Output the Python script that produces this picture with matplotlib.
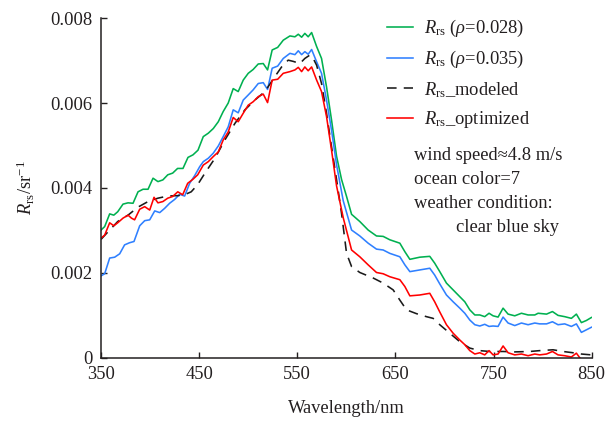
import matplotlib
matplotlib.use("Agg")
import matplotlib.pyplot as plt

plt.rcParams['font.family'] = ['Liberation Serif', 'DejaVu Serif']
plt.rcParams['mathtext.fontset'] = 'custom'
plt.rcParams['mathtext.rm'] = 'Liberation Serif'
plt.rcParams['mathtext.it'] = 'Liberation Serif:italic'
plt.rcParams['mathtext.bf'] = 'Liberation Serif:bold'

# ---------------- data ----------------
wl_green = [350, 353.7, 358.8, 363, 367, 372.4, 377.5, 382.6, 387.7, 392.8, 397.9, 403, 408, 413,
            418, 423, 428, 433.5, 438.6, 443.7, 448.8, 454.2, 459.3, 464.4, 469.5, 474.5, 479.6,
            484.7, 489.8, 494.9, 500, 505, 510.2, 515.3, 519.7, 524.4, 530, 535.7, 542.5, 547.6,
            551, 554.4, 557.7, 561.1, 564.6, 569.7, 574.7, 579.8, 584.9, 590, 595.1, 600.2, 605.3,
            613.7, 622.2, 630.7, 637.5, 644.3, 654.5, 659.6, 664.7, 674.8, 685, 690, 695.2, 702,
            708.8, 715.6, 720.7, 725.8, 730.9, 736, 741, 745.4, 749.5, 754.6, 759.7, 764.8, 771.6,
            778.4, 785.2, 792, 795.4, 804, 810, 815.7, 822.5, 829.3, 834.4, 839.5, 844.6, 849.7]
rrs_green = [0.00301, 0.00309, 0.00339, 0.00336, 0.00344, 0.00362, 0.00365, 0.00364, 0.00391, 0.00397,
             0.00397, 0.00423, 0.00415, 0.00419, 0.00431, 0.00435, 0.00446, 0.00446, 0.00472, 0.00478,
             0.00489, 0.00521, 0.00529, 0.00540, 0.00556, 0.00580, 0.00600, 0.00634, 0.00627, 0.00654,
             0.00670, 0.00679, 0.00692, 0.00693, 0.00678, 0.00725, 0.00731, 0.00748, 0.00758, 0.00756,
             0.00762, 0.00755, 0.00764, 0.00756, 0.00766, 0.00733, 0.00705, 0.00638, 0.00560, 0.00475,
             0.00420, 0.00380, 0.00338, 0.00321, 0.00301, 0.00287, 0.00286, 0.00278, 0.00270, 0.00250,
             0.00232, 0.00237, 0.00239, 0.00223, 0.00203, 0.00176, 0.00160, 0.00144, 0.00132, 0.00113,
             0.00101, 0.00101, 0.00097, 0.00105, 0.00099, 0.00096, 0.00117, 0.00103, 0.00099, 0.00105,
             0.00101, 0.00101, 0.00105, 0.00103, 0.00109, 0.00100, 0.00097, 0.00093, 0.00103, 0.00083,
             0.00088, 0.00095]

wl_blue = [350, 353.7, 358.8, 363.9, 369, 374, 379, 383.6, 389.4, 394.5, 399.6, 404.7, 409.8, 414.8,
           419.9, 425, 430.1, 435.2, 440.3, 445.4, 450.5, 454.2, 459.3, 464.4, 469.5, 474.5, 479.6,
           484.7, 489.8, 494.9, 500, 505, 510.2, 515.3, 519.7, 524.4, 530, 535.7, 542.5, 547.6, 551,
           554.4, 557.7, 561.1, 564.6, 569.7, 574.7, 579.8, 584.9, 590, 596.8, 605.3, 613.7, 622.2,
           630.7, 637.5, 644.3, 654.5, 659.6, 664.7, 674.8, 685, 690, 695.2, 702, 708.8, 715.6, 720.7,
           725.8, 730.9, 736, 741, 745.4, 749.5, 754.6, 759.7, 764.8, 771.6, 778.4, 785.2, 792, 797,
           804, 810, 815.7, 822.5, 829.3, 834.4, 839.5, 844.6, 849.7]
rrs_blue = [0.00193, 0.00198, 0.00235, 0.00237, 0.00245, 0.00266, 0.00271, 0.00274, 0.00311, 0.00323,
            0.00325, 0.00346, 0.00342, 0.00352, 0.00364, 0.00373, 0.00385, 0.00381, 0.00411, 0.00429,
            0.00450, 0.00462, 0.00470, 0.00482, 0.00499, 0.00521, 0.00544, 0.00584, 0.00577, 0.00607,
            0.00619, 0.00631, 0.00646, 0.00648, 0.00632, 0.00682, 0.00687, 0.00705, 0.00717, 0.00714,
            0.00723, 0.00714, 0.00721, 0.00715, 0.00726, 0.00697, 0.00670, 0.00607, 0.00536, 0.00455,
            0.00370, 0.00301, 0.00287, 0.00270, 0.00256, 0.00254, 0.00246, 0.00238, 0.00219, 0.00203,
            0.00207, 0.00211, 0.00195, 0.00174, 0.00148, 0.00132, 0.00117, 0.00105, 0.00089, 0.00078,
            0.00075, 0.00079, 0.00074, 0.00075, 0.00074, 0.00096, 0.00082, 0.00076, 0.00082, 0.00078,
            0.00082, 0.00080, 0.00080, 0.00085, 0.00078, 0.00080, 0.00074, 0.00080, 0.00060, 0.00066,
            0.00072]

wl_model = [350, 357.2, 367, 377.5, 387.7, 397.9, 408, 418, 428.2, 435, 441.9, 448.5, 455.9, 466.1,
            476.2, 486.4, 496.6, 506.8, 517, 527.1, 534, 540.7, 546, 552.6, 557.7, 562.8, 566.2,
            569.7, 574.7, 579.8, 584.9, 590, 595.1, 600.2, 605.3, 613.7, 627.3, 637.5, 647.7, 654.5,
            661.3, 671.5, 681.6, 688.4, 695.2, 705.4, 715.6, 725.8, 736, 746.1, 759.7, 771.6, 786.9,
            797, 810.6, 820.8, 831, 839.5, 849.7]
rrs_model = [0.00279, 0.00297, 0.00321, 0.00336, 0.00355, 0.00368, 0.00376, 0.00381, 0.00382, 0.00384,
             0.00391, 0.00408, 0.00435, 0.00470, 0.00513, 0.00552, 0.00584, 0.00607, 0.00627, 0.00662,
             0.00685, 0.00701, 0.00698, 0.00693, 0.00705, 0.00713, 0.00705, 0.00689, 0.00646, 0.00576,
             0.00497, 0.00420, 0.00340, 0.00246, 0.00215, 0.00201, 0.00188, 0.00176, 0.00160, 0.00136,
             0.00113, 0.00104, 0.00097, 0.00093, 0.00078, 0.00058, 0.00038, 0.00023, 0.00017, 0.00015,
             0.00015, 0.00014, 0.00015, 0.00017, 0.00019, 0.00015, 0.00012, 0.00009, 0.00007]

wl_opt = [350, 353.7, 358.8, 363, 367, 372.4, 377.5, 381, 384.2, 389.4, 394.5, 399.6, 404, 408, 413,
          418, 423, 428.2, 433.2, 438.3, 443.4, 448.5, 454.2, 459.3, 464.4, 469.5, 474.5, 479.6,
          484.7, 489.8, 494.9, 500, 505, 510.2, 515.3, 519.7, 524.4, 530, 535.7, 542.5, 547.6, 551,
          554.4, 557.7, 561.1, 564.6, 569.7, 574.7, 579.8, 584.9, 590, 596.8, 605.3, 613.7, 622.2,
          630.7, 637.5, 644.3, 654.5, 659.6, 664.7, 674.8, 685, 690, 695.2, 702, 708.8, 715.6, 720.7,
          725.8, 730.9, 736, 741, 745.4, 749.5, 754.6, 759.7, 764.8, 771.6, 778.4, 785.2, 792, 797,
          804, 810, 815.7, 822.5, 829.3, 834.4, 839.5, 844.6, 849.7]
rrs_opt = [0.00282, 0.00289, 0.00318, 0.00311, 0.00318, 0.00329, 0.00336, 0.00329, 0.00325, 0.00350,
           0.00356, 0.00348, 0.00378, 0.00365, 0.00368, 0.00376, 0.00380, 0.00391, 0.00384, 0.00411,
           0.00420, 0.00431, 0.00454, 0.00462, 0.00474, 0.00485, 0.00513, 0.00532, 0.00566, 0.00556,
           0.00576, 0.00595, 0.00603, 0.00615, 0.00621, 0.00601, 0.00654, 0.00656, 0.00670, 0.00674,
           0.00678, 0.00684, 0.00674, 0.00685, 0.00676, 0.00685, 0.00654, 0.00627, 0.00568, 0.00489,
           0.00405, 0.00330, 0.00254, 0.00238, 0.00219, 0.00201, 0.00198, 0.00191, 0.00184, 0.00168,
           0.00146, 0.00148, 0.00152, 0.00132, 0.00108, 0.00078, 0.00058, 0.00042, 0.00031, 0.00017,
           0.00009, 0.00012, 0.00007, 0.00017, 0.00007, 0.00009, 0.00028, 0.00012, 0.00007, 0.00009,
           0.00005, 0.00009, 0.00007, 0.00009, 0.00015, 0.00007, 0.00005, 0.00002, 0.00011, -0.00005,
           -0.00010, -0.00008]

x_ticks = [350, 450, 550, 650, 750, 850]
y_ticks = [0, 0.002, 0.004, 0.006, 0.008]
y_ticklabels = ['0', '0.002', '0.004', '0.006', '0.008']

labels = [r'$\mathit{R}_{\mathrm{rs}}$ ($\mathit{\rho}$=0.028)',
          r'$\mathit{R}_{\mathrm{rs}}$ ($\mathit{\rho}$=0.035)',
          r'$\mathit{R}_{\mathrm{rs}}$_modeled',
          r'$\mathit{R}_{\mathrm{rs}}$_optimized']
note_lines = ['wind speed\u22484.8 m/s', 'ocean color=7', 'weather condition:', 'clear blue sky']

# ---------------- plot ----------------
fig = plt.figure(figsize=(6.05, 4.21), dpi=100)
ax = fig.add_axes([0.167, 0.150, 0.811, 0.807])

fs = 13.3
ax.plot(wl_green, rrs_green, color='#00b050', lw=1.15, label=labels[0])
ax.plot(wl_blue, rrs_blue, color='#2f80ff', lw=1.15, label=labels[1])
ax.plot(wl_model, rrs_model, color='#1a1a1a', lw=1.15, dashes=(6, 4.5), label=labels[2])
ax.plot(wl_opt, rrs_opt, color='#ff0000', lw=1.15, label=labels[3])

ax.set_xlim(350, 850)
ax.set_ylim(0, 0.008)
ax.set_xticks(x_ticks)
ax.set_xticklabels([str(t) for t in x_ticks])
ax.set_yticks(y_ticks)
ax.set_yticklabels(y_ticklabels)
ax.tick_params(direction='in', length=4, width=1, labelsize=fs, colors='#231f20')
ax.tick_params(axis='x', pad=6)
ax.tick_params(axis='y', pad=6)
for s in ['top', 'right']:
    ax.spines[s].set_visible(False)
for s in ['left', 'bottom']:
    ax.spines[s].set_color('#231f20')
    ax.spines[s].set_linewidth(1.1)

ax.set_xlabel('Wavelength/nm', fontsize=fs, color='#231f20', labelpad=12)
ax.set_ylabel(r'$\mathit{R}_{\mathrm{rs}}$/sr$^{-1}$', fontsize=fs, color='#231f20', labelpad=10)

leg = ax.legend(loc='upper left', bbox_to_anchor=(0.582, 1.0), frameon=False, fontsize=fs,
                handlelength=1.42, handletextpad=0.6, labelspacing=0.53, borderaxespad=0.0,
                borderpad=0.0)
for t in leg.get_texts():
    t.set_color('#231f20')

ys = [155, 180, 203, 228]
xs = [414, 414, 414, 456]
for txt, xx, yy in zip(note_lines, xs, ys):
    fig.text(xx / 605, 1 - yy / 421, txt, fontsize=fs, color='#231f20', va='center', ha='left')

fig.savefig('out.png', dpi=100)
